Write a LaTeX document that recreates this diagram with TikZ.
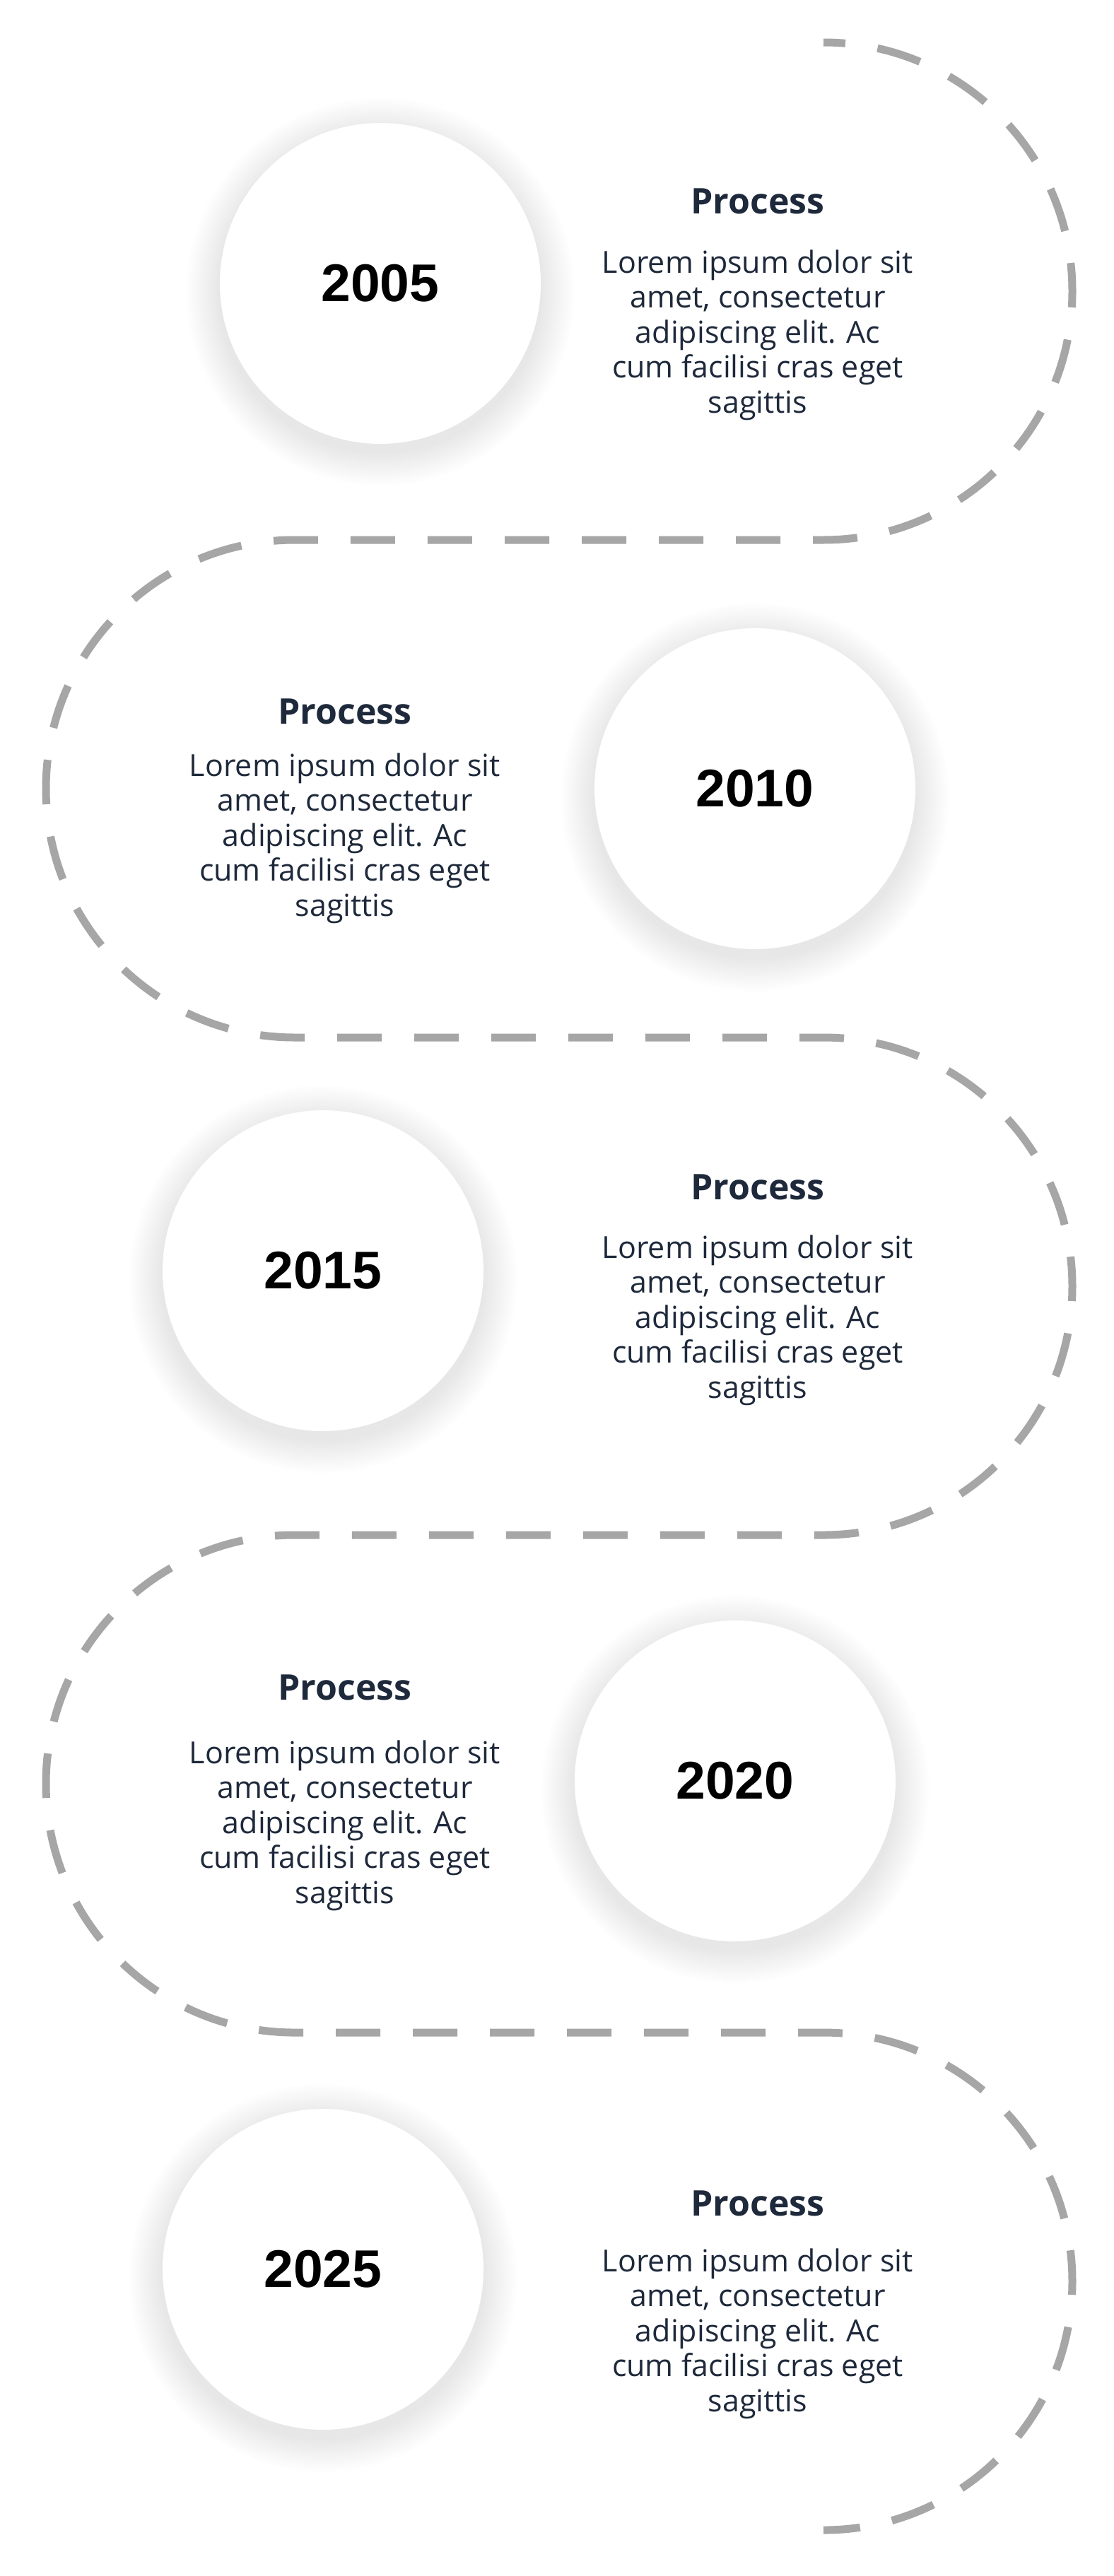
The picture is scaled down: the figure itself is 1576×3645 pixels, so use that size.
\documentclass[tikz,border=0pt]{standalone}
\usepackage{fontspec}
\setmainfont{Open Sans}
\newfontfamily\yearfont{Liberation Sans}
\definecolor{ink}{HTML}{1E293B}
\definecolor{pathgray}{HTML}{A6A6A6}

% Soft shadow under a year circle
\newcommand{\halo}[1]{%
  \foreach \k in {1,...,24}
    \fill[black, opacity=0.0042] ([yshift=-12pt]#1) circle ({227+2*\k});
}

\begin{document}
\begin{tikzpicture}[x=1pt, y=-1pt,
  year/.style={circle, fill=white, minimum size=454pt, inner sep=0pt,
    font=\yearfont\bfseries\fontsize{75}{80}\selectfont},
  title/.style={anchor=base, inner sep=0pt, text=ink,
    font=\bfseries\fontsize{50}{60}\selectfont},
  blurb/.style={anchor=base, inner sep=0pt, align=center, text=ink,
    font=\fontsize{43}{49.5}\selectfont},
  trail/.style={pathgray, line width=11pt,
    dash pattern=on 63pt off 46pt, dash phase=32pt}]

  % Canvas
  \fill[white] (0,0) rectangle (1576,3645);
  \useasboundingbox (0,0) rectangle (1576,3645);

  % Parameters: bend radius, left and right bend centres
  \pgfmathsetmacro{\r}{352}
  \pgfmathsetmacro{\xl}{417}
  \pgfmathsetmacro{\xr}{1165}

  % Winding dashed trail
  \draw[trail] (\xr,60) arc (-90:90:\r) -- (\xl,764) arc (-90:-270:\r)
    -- (\xr,1468) arc (-90:90:\r) -- (\xl,2172) arc (-90:-270:\r)
    -- (\xr,2876) arc (-90:90:\r);

  % Year circles
  \coordinate (p2005) at (538,401);
  \coordinate (p2010) at (1068,1116);
  \coordinate (p2015) at (457,1798);
  \coordinate (p2020) at (1040,2520);
  \coordinate (p2025) at (457,3211);
  \halo{p2005} \halo{p2010} \halo{p2015} \halo{p2020} \halo{p2025}
  \node[year] (y2005) at (p2005) {2005};
  \node[year] (y2010) at (p2010) {2010};
  \node[year] (y2015) at (p2015) {2015};
  \node[year] (y2020) at (p2020) {2020};
  \node[year] (y2025) at (p2025) {2025};

  % Step texts (blurb anchor is the baseline of its last line)
  \node[title] (t2005) at (1072,302) {Process};
  \node[blurb] (d2005) at (1072,584) {Lorem ipsum dolor sit\\amet, consectetur\\adipiscing elit. Ac\\cum facilisi cras eget\\sagittis};

  \node[title] (t2010) at (488,1024) {Process};
  \node[blurb] (d2010) at (488,1296) {Lorem ipsum dolor sit\\amet, consectetur\\adipiscing elit. Ac\\cum facilisi cras eget\\sagittis};

  \node[title] (t2015) at (1072,1697) {Process};
  \node[blurb] (d2015) at (1072,1978) {Lorem ipsum dolor sit\\amet, consectetur\\adipiscing elit. Ac\\cum facilisi cras eget\\sagittis};

  \node[title] (t2020) at (488,2405) {Process};
  \node[blurb] (d2020) at (488,2693) {Lorem ipsum dolor sit\\amet, consectetur\\adipiscing elit. Ac\\cum facilisi cras eget\\sagittis};

  \node[title] (t2025) at (1072,3135) {Process};
  \node[blurb] (d2025) at (1072,3412) {Lorem ipsum dolor sit\\amet, consectetur\\adipiscing elit. Ac\\cum facilisi cras eget\\sagittis};
\end{tikzpicture}
\end{document}
